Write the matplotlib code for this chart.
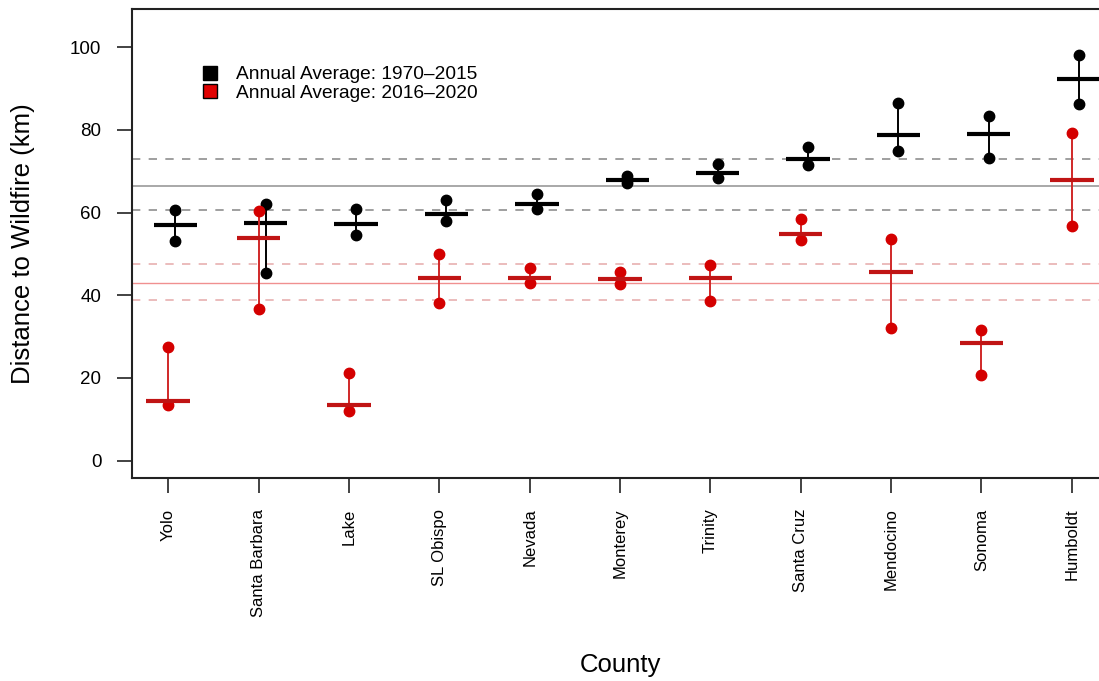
import matplotlib
matplotlib.use("Agg")
from matplotlib import pyplot as plt
from matplotlib.lines import Line2D
import numpy as np

plt.rcParams['font.family'] = ['Liberation Sans', 'DejaVu Sans']

counties = ['Yolo', 'Santa Barbara', 'Lake', 'SL Obispo', 'Nevada', 'Monterey',
            'Trinity', 'Santa Cruz', 'Mendocino', 'Sonoma', 'Humboldt']

# 1970-2015 annual average and its spread
early_mean = [57.0, 57.4, 57.2, 59.7, 62.1, 67.8, 69.6, 73.0, 78.8, 79.1, 92.2]
early_hi = [60.6, 62.1, 60.8, 63.0, 64.4, 68.9, 71.7, 75.9, 86.4, 83.3, 98.2]
early_lo = [53.0, 45.3, 54.6, 57.9, 60.8, 67.1, 68.3, 71.4, 75.0, 73.1, 86.2]

# 2016-2020 annual average and its spread
recent_mean = [14.5, 53.9, 13.4, 44.1, 44.1, 43.9, 44.1, 54.8, 45.7, 28.4, 67.8]
recent_hi = [27.5, 60.4, 21.3, 49.9, 46.5, 45.6, 47.2, 58.4, 53.6, 31.5, 79.3]
recent_lo = [13.5, 36.6, 12.1, 38.1, 42.9, 42.7, 38.5, 53.4, 32.2, 20.8, 56.8]

# overall means with their bands
early_overall = [66.3, 60.5, 72.9]
recent_overall = [42.9, 38.8, 47.5]

yticks = [0, 20, 40, 60, 80, 100]

BLACK = '#000000'
RED_DOT = '#D40000'
RED_BAR = '#C01414'

fig = plt.figure(figsize=(10.99, 6.81), dpi=100)
ax = fig.add_axes([0.1201, 0.298, 0.8881, 0.6887])

x = np.arange(1, len(counties) + 1)
xb = x + 0.08   # black group sits a little to the right

# reference lines
ax.axhline(early_overall[0], color='#9a9a9a', lw=1.2, zorder=1)
for v in early_overall[1:]:
    ax.axhline(v, color='#8f8f8f', lw=1.2, ls=(0, (5, 5)), zorder=1)
ax.axhline(recent_overall[0], color='#F09090', lw=1.0, zorder=1)
for v in recent_overall[1:]:
    ax.axhline(v, color='#E8B0B0', lw=1.2, ls=(0, (5, 5)), zorder=1)

half = 0.24
# early period
ax.vlines(xb, early_lo, early_hi, color=BLACK, lw=1.4, zorder=3)
ax.plot(xb, early_hi, 'o', color=BLACK, ms=7.5, zorder=4)
ax.plot(xb, early_lo, 'o', color=BLACK, ms=7.5, zorder=4)
ax.hlines(early_mean, xb - half, xb + half, color=BLACK, lw=3.0, zorder=4)

# recent period
ax.vlines(x, recent_lo, recent_hi, color='#D02828', lw=1.4, zorder=5)
ax.plot(x, recent_hi, 'o', color=RED_DOT, ms=7.5, zorder=6)
ax.plot(x, recent_lo, 'o', color=RED_DOT, ms=7.5, zorder=6)
ax.hlines(recent_mean, x - half, x + half, color=RED_BAR, lw=3.0, zorder=6)

ax.set_xlim(0.6, 11.4)
ax.set_ylim(-4.2, 109.2)
ax.set_xticks(x)
ax.set_xticklabels(counties, rotation=90, fontsize=12)
ax.set_yticks(yticks)
ax.set_yticklabels([str(t) for t in yticks], fontsize=13.5)
ax.tick_params(axis='both', length=11, width=1.2, color='#222222', pad=11)
for s in ax.spines.values():
    s.set_linewidth(1.5)
    s.set_color('#222222')

fig.text(0.021, 0.6424, 'Distance to Wildfire (km)', rotation=90,
         ha='center', va='center', fontsize=18.5)
fig.text(0.5642, 1 - 665 / 681, 'County', ha='center', va='center', fontsize=18.5)

handles = [Line2D([], [], ls='none', marker='s', ms=10, mfc=BLACK, mec=BLACK),
           Line2D([], [], ls='none', marker='s', ms=10, mfc='#E00000', mec=BLACK)]
ax.legend(handles, ['Annual Average: 1970\u20132015', 'Annual Average: 2016\u20132020'],
          loc='upper left', bbox_to_anchor=(200 / 1099, 1 - 66 / 681),
          bbox_transform=fig.transFigure, frameon=False, fontsize=13.8,
          handlelength=1.0, handletextpad=0.9, labelspacing=0.05,
          borderaxespad=0, borderpad=0)

fig.savefig('out.png', dpi=100)
